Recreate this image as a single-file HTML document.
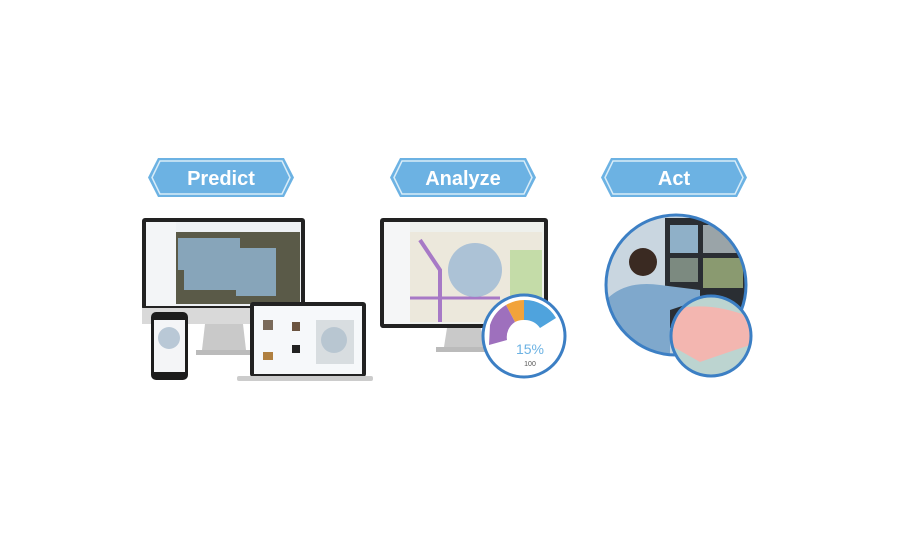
<!DOCTYPE html>
<html><head><style>body{margin:0;background:#fff}svg{display:block}</style></head><body>
<svg width="900" height="550" viewBox="0 0 900 550" xmlns="http://www.w3.org/2000/svg" font-family="Liberation Sans, sans-serif">
<defs>
<g id="ban"><polygon points="10,0 136,0 146,19.5 136,39 10,39 0,19.5" fill="#6cb2e3"/><polygon points="12,3 134,3 142,19.5 134,36 12,36 4,19.5" fill="none" stroke="#d8ecf8" stroke-width="1.5"/></g>
<clipPath id="c1"><circle cx="676" cy="285" r="69"/></clipPath>
<clipPath id="c2"><circle cx="711" cy="336" r="39"/></clipPath>
</defs>
<use href="#ban" x="148" y="158"/><use href="#ban" x="390" y="158"/><use href="#ban" x="601" y="158"/>
<g fill="#fff" font-weight="bold" font-size="20" text-anchor="middle">
<text x="221" y="185">Predict</text><text x="463" y="185">Analyze</text><text x="674" y="185">Act</text></g>

<!-- Predict monitor -->
<rect x="142" y="218" width="163" height="92" rx="3" fill="#222"/>
<rect x="142" y="308" width="163" height="16" fill="#d9d9d9"/>
<polygon points="205,324 243,324 246,350 202,350" fill="#c9c9c9"/>
<rect x="196" y="350" width="56" height="5" fill="#bbb"/>
<rect x="146" y="222" width="155" height="84" fill="#eef1f4"/>
<rect x="176" y="232" width="124" height="72" fill="#5a5a48"/>
<polygon points="178,238 240,238 240,248 276,248 276,296 236,296 236,290 184,290 184,270 178,270" fill="#8fb3cf" opacity=".85"/>
<rect x="146" y="222" width="30" height="84" fill="#f3f5f7"/>
<!-- laptop -->
<rect x="250" y="302" width="116" height="75" rx="3" fill="#222"/>
<rect x="254" y="306" width="108" height="68" fill="#f6f8fa"/>
<rect x="316" y="320" width="38" height="44" fill="#d8dde0"/>
<circle cx="334" cy="340" r="13" fill="#b8c6d1"/>
<rect x="263" y="320" width="10" height="10" fill="#7a6a5a"/><rect x="263" y="352" width="10" height="8" fill="#b08040"/>
<rect x="292" y="322" width="8" height="9" fill="#6b5440"/><rect x="292" y="345" width="8" height="8" fill="#222"/>
<rect x="237" y="376" width="136" height="5" rx="2" fill="#ccc"/>
<!-- phone -->
<rect x="151" y="312" width="37" height="68" rx="5" fill="#1c1c1c"/>
<rect x="154" y="320" width="31" height="52" fill="#f4f5f7"/>
<circle cx="169" cy="338" r="11" fill="#b9c8d6"/>

<!-- Analyze monitor -->
<rect x="380" y="218" width="168" height="110" rx="3" fill="#222"/>
<rect x="384" y="222" width="160" height="102" fill="#eef0ec"/>
<rect x="410" y="232" width="132" height="90" fill="#ece8dc"/>
<rect x="510" y="250" width="32" height="70" fill="#c4dca8"/>
<path d="M420 240 L440 270 L440 322" stroke="#a779c6" stroke-width="4" fill="none"/>
<path d="M410 298 L500 298" stroke="#a779c6" stroke-width="3"/>
<circle cx="475" cy="270" r="27" fill="#9cb8d4" opacity=".8"/>
<rect x="384" y="222" width="26" height="102" fill="#f5f6f7"/>
<polygon points="447,328 481,328 484,347 444,347" fill="#c9c9c9"/>
<rect x="436" y="347" width="56" height="5" fill="#bbb"/>
<circle cx="524" cy="336" r="41" fill="#fff" stroke="#3c7fc4" stroke-width="3"/>
<path d="M524 300 A36 36 0 0 1 556 318 L540 328 A18 18 0 0 0 524 320Z" fill="#4fa3dd"/>
<path d="M506 305 A36 36 0 0 1 524 300 L524 320 A18 18 0 0 0 515 322Z" fill="#f2a33a"/>
<path d="M490 325 A36 36 0 0 1 506 305 L515 322 A18 18 0 0 0 507 340 L489 345Z" fill="#9e70bd"/>
<text x="530" y="354" font-size="14" fill="#6cb2e3" text-anchor="middle">15%</text>
<text x="530" y="366" font-size="7" fill="#555" text-anchor="middle">100</text>

<!-- Act -->
<circle cx="676" cy="285" r="70" fill="#c9d6e0"/>
<g clip-path="url(#c1)">
<rect x="665" y="218" width="85" height="110" fill="#2a2e33"/>
<rect x="670" y="225" width="28" height="28" fill="#8fb0c8"/><rect x="703" y="225" width="40" height="28" fill="#9aa4a8"/>
<rect x="670" y="258" width="28" height="24" fill="#7c8a80"/><rect x="703" y="258" width="40" height="30" fill="#8a9a70"/>
<path d="M606 300 Q625 280 660 285 L700 290 L700 300 L670 310 L670 360 L606 360Z" fill="#7fa8cc"/>
<circle cx="643" cy="262" r="14" fill="#3a2a22"/>
</g>
<circle cx="676" cy="285" r="70" fill="none" stroke="#3c7fc4" stroke-width="3"/>
<circle cx="711" cy="336" r="40" fill="#bcd4d0"/>
<g clip-path="url(#c2)"><path d="M670 310 Q710 300 752 318 L750 345 Q720 355 700 362 L670 345Z" fill="#f3b6b0"/></g>
<circle cx="711" cy="336" r="40" fill="none" stroke="#3c7fc4" stroke-width="3"/>
</svg>
</body></html>
